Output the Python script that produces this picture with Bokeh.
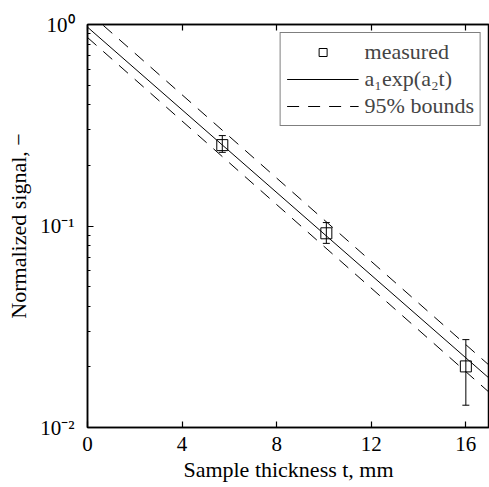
from bokeh.plotting import figure
from bokeh.models import (ColumnDataSource, Whisker, TeeHead, LinearAxis, FixedTicker,
                          Legend, LegendItem, Range1d)
from bokeh.embed import file_html
from bokeh.resources import INLINE

# ---- data ----
thickness = [5.7, 10.1, 16.0]
signal = [0.252, 0.092, 0.0201]
err_low = [0.232, 0.082, 0.0129]
err_high = [0.281, 0.104, 0.0273]

fit_t = [0.0, 17.0]
fit_val = [0.97, 0.0175]
upper_val = [1.16, 0.0203]
lower_val = [0.862, 0.0149]

x_ticks = [0, 4, 8, 12, 16]
y_ticks = [0.01, 0.1, 1.0]
y_tick_labels = ["10\u207b\u00b2", "10\u207b\u00b9", "10\u2070"]

legend_labels = ["measured", "a\u2081exp(a\u2082t)", "95% bounds"]

FONT = "Liberation Serif"

p = figure(width=489, height=487, y_axis_type="log",
           x_range=Range1d(0, 17), y_range=Range1d(0.01, 1.0),
           output_backend="svg", toolbar_location=None,
           min_border_left=87, min_border_right=0, min_border_top=24, min_border_bottom=60)
p.grid.visible = False
p.outline_line_color = "black"
p.outline_line_width = 1.5
p.background_fill_color = "white"
p.border_fill_color = "white"

src = ColumnDataSource(dict(t=thickness, s=signal, lo=err_low, hi=err_high))
fit_src = ColumnDataSource(dict(t=fit_t, v=fit_val, up=upper_val, lo=lower_val))

r_fit = p.line("t", "v", source=fit_src, line_color="black", line_width=1)
r_up = p.line("t", "up", source=fit_src, line_color="black", line_width=1, line_dash="12 9")
r_lo = p.line("t", "lo", source=fit_src, line_color="black", line_width=1, line_dash="12 9")

w = Whisker(base="t", lower="lo", upper="hi", source=src, dimension="height",
            line_color="black", line_width=1,
            lower_head=TeeHead(size=7, line_color="black", line_width=1),
            upper_head=TeeHead(size=7, line_color="black", line_width=1))
p.add_layout(w)
r_pts = p.scatter("t", "s", source=src, marker="square", size=11,
                  fill_color=None, line_color="black", line_width=1)

# axes
xa = p.xaxis[0]
xa.ticker = FixedTicker(ticks=x_ticks)
xa.axis_label = "Sample thickness t, mm"
ya = p.yaxis[0]
ya.ticker = FixedTicker(ticks=y_ticks, minor_ticks=[v * k for v in [0.01, 0.1] for k in range(2, 10)])
ya.major_label_overrides = {v: l for v, l in zip(y_ticks, y_tick_labels)}
ya.axis_label = "Normalized signal, \u2212"

for ax in (xa, ya):
    ax.axis_line_color = "black"
    ax.axis_line_width = 1.5
    ax.major_tick_in = 6
    ax.major_tick_out = 0
    ax.major_tick_line_color = "black"
    ax.major_tick_line_width = 1.2
    ax.minor_tick_in = 3
    ax.minor_tick_out = 0
    ax.major_label_text_font = FONT
    ax.major_label_text_font_size = "21px"
    ax.major_label_text_color = "black"
    ax.axis_label_text_font = FONT
    ax.axis_label_text_font_size = "22px"
    ax.axis_label_text_font_style = "normal"
    ax.axis_label_text_color = "black"
xa.minor_tick_line_color = None
xa.major_label_standoff = 9
xa.axis_label_standoff = 3
ya.major_label_standoff = 13
ya.axis_label_standoff = 6
ya.minor_tick_line_color = "black"

top = LinearAxis(ticker=FixedTicker(ticks=x_ticks), major_tick_in=6, major_tick_out=0,
                 major_label_overrides={t: "" for t in x_ticks},
                 major_label_text_font_size="8px", major_label_standoff=0,
                 axis_line_color="black", axis_line_width=1.5,
                 major_tick_line_width=1.2, minor_tick_line_color=None)
p.add_layout(top, "above")

legend = Legend(items=[LegendItem(label=legend_labels[0], renderers=[r_pts]),
                       LegendItem(label=legend_labels[1], renderers=[r_fit]),
                       LegendItem(label=legend_labels[2], renderers=[r_up])],
                location="top_right", margin=8, padding=6, spacing=1,
                glyph_width=72, glyph_height=20, label_height=20, label_standoff=6,
                label_text_font=FONT, label_text_font_size="22px",
                border_line_color="black", border_line_width=1,
                background_fill_color="white", background_fill_alpha=1)
p.add_layout(legend)

open("out.html", "w").write(file_html(p, INLINE))
